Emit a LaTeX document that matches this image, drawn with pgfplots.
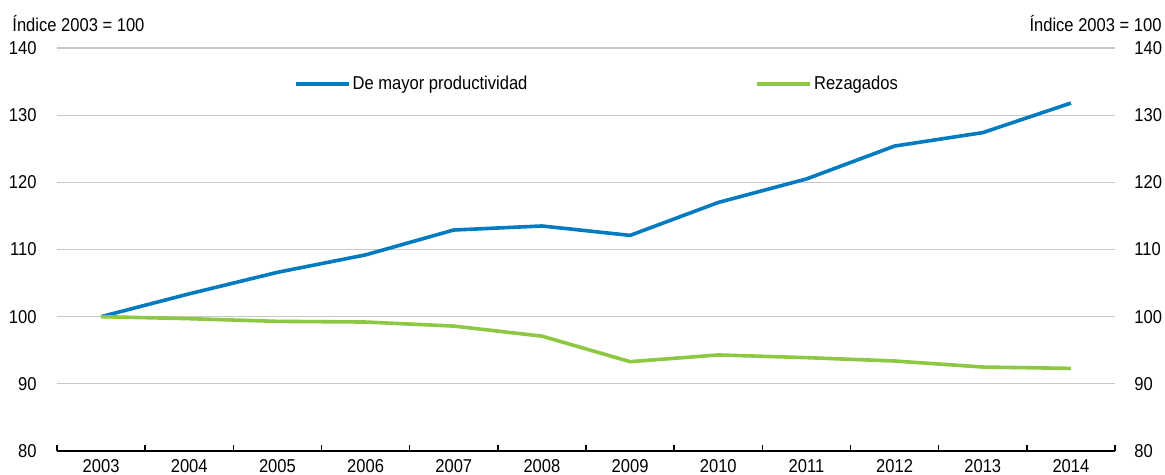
\documentclass[border=0pt]{standalone}
\usepackage{pgfplots}
\pgfplotsset{compat=1.18}
\usepackage{pgfplotstable}
\usepackage{fontspec}
\setmainfont{Liberation Sans}[FakeStretch=0.89]

\definecolor{oblue}{RGB}{3,123,193}
\definecolor{ogreen}{RGB}{140,200,65}
\definecolor{ogrid}{RGB}{200,200,200}

% index 2003 = 100
\pgfplotstableread{
x  prod   rez
0  100.0  100.0
1  103.4  99.7
2  106.6  99.3
3  109.2  99.2
4  112.9  98.6
5  113.5  97.1
6  112.1  93.3
7  117.0  94.3
8  120.5  93.9
9  125.4  93.4
10 127.4  92.5
11 131.8  92.3
}\datatable

\begin{document}
\begin{tikzpicture}
\pgfplotsset{
  base/.style={
    scale only axis, width=529pt, height=201.5pt,
    xmin=-0.5, xmax=11.5, ymin=80, ymax=140,
    ytick={80,90,...,140},
    major tick length=0pt,
    font=\fontsize{9.3}{11}\selectfont,
    /pgf/number format/assume math mode=true,
    y axis line style={draw=none},
  }
}
\begin{axis}[
  base,
  clip=false,
  axis x line*=bottom, axis y line*=left,
  x axis line style={line width=1pt, -},
  xtick={0,...,11},
  xticklabels={2003,2004,2005,2006,2007,2008,2009,2010,2011,2012,2013,2014},
  minor xtick={-0.5,0.5,...,11.5},
  minor tick length=3pt,
  tick align=inside,
  minor tick style={black, line width=0.8pt},
  ymajorgrids,
  grid style={ogrid, line width=0.6pt},
  yticklabel style={inner sep=0pt, xshift=-10pt},
  xticklabel style={inner sep=0pt, yshift=-4pt},
  legend columns=2,
  legend cell align=left,
  legend style={draw=none, fill=none, at={(0.218,0.911)}, anchor=west,
    /tikz/every even column/.append style={column sep=113pt},
    nodes={inner sep=1pt}},
  legend image code/.code={\draw[#1] (0pt,0pt) -- (26.5pt,0pt);},
]
\addplot[oblue, line width=1.8pt] table[x=x, y=prod] {\datatable};
\addlegendentry{De mayor productividad}
\addplot[ogreen, line width=1.8pt] table[x=x, y=rez] {\datatable};
\addlegendentry{Rezagados}

\node[anchor=base west, inner sep=0pt, xshift=-22.5pt, yshift=8pt] at (rel axis cs:0,1) {Índice 2003 = 100};
\node[anchor=base east, inner sep=0pt, xshift=23.5pt, yshift=8pt] at (rel axis cs:1,1) {Índice 2003 = 100};
\end{axis}

\begin{axis}[
  base,
  axis y line*=right, axis x line=none,
  yticklabel style={inner sep=0pt, xshift=9.5pt, anchor=west},
]
\end{axis}

\path (-28.5pt,-12pt) rectangle (554pt,225.5pt);
\end{tikzpicture}
\end{document}
